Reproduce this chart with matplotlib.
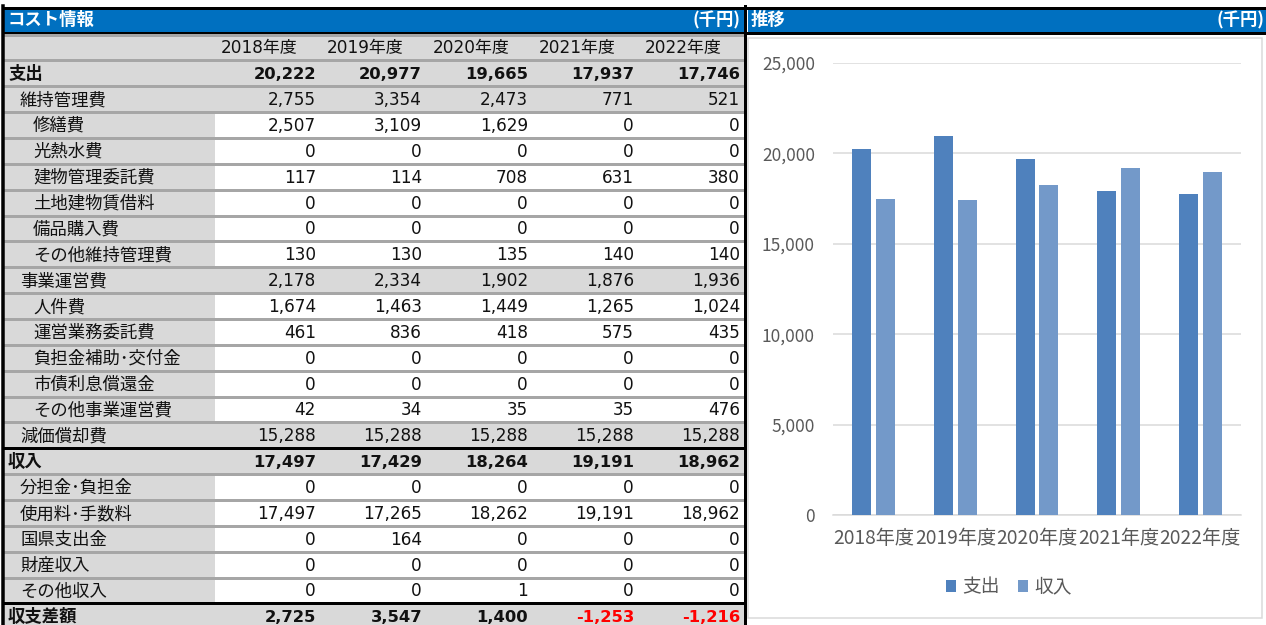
import matplotlib
matplotlib.use('Agg')
import matplotlib.pyplot as plt
from matplotlib.patches import Rectangle
import numpy as np

# ---------------- data ----------------
years = ['2018年度', '2019年度', '2020年度', '2021年度', '2022年度']
row_labels = ['支出', '維持管理費', '修繕費', '光熱水費', '建物管理委託費', '土地建物賃借料',
              '備品購入費', 'その他維持管理費', '事業運営費', '人件費', '運営業務委託費',
              '負担金補助･交付金', '市債利息償還金', 'その他事業運営費', '減価償却費',
              '収入', '分担金･負担金', '使用料･手数料', '国県支出金', '財産収入', 'その他収入',
              '収支差額']
row_levels = [0, 1, 2, 2, 2, 2, 2, 2, 1, 2, 2, 2, 2, 2, 1, 0, 1, 1, 1, 1, 1, 0]
row_values = [
    [20222, 20977, 19665, 17937, 17746],
    [2755, 3354, 2473, 771, 521],
    [2507, 3109, 1629, 0, 0],
    [0, 0, 0, 0, 0],
    [117, 114, 708, 631, 380],
    [0, 0, 0, 0, 0],
    [0, 0, 0, 0, 0],
    [130, 130, 135, 140, 140],
    [2178, 2334, 1902, 1876, 1936],
    [1674, 1463, 1449, 1265, 1024],
    [461, 836, 418, 575, 435],
    [0, 0, 0, 0, 0],
    [0, 0, 0, 0, 0],
    [42, 34, 35, 35, 476],
    [15288, 15288, 15288, 15288, 15288],
    [17497, 17429, 18264, 19191, 18962],
    [0, 0, 0, 0, 0],
    [17497, 17265, 18262, 19191, 18962],
    [0, 164, 0, 0, 0],
    [0, 0, 0, 0, 0],
    [0, 0, 1, 0, 0],
    [2725, 3547, 1400, -1253, -1216],
]
spend = [20222, 20977, 19665, 17937, 17746]
income = [17497, 17429, 18264, 19191, 18962]
series_names = ['支出', '収入']
table_title = 'コスト情報'
chart_title = '推移'
unit_label = '(千円)'
y_ticks = [0, 5000, 10000, 15000, 20000, 25000]

# ---------------- styling ----------------
W, H = 1266, 625
BLUE = '#0070C0'
GRAY = '#D9D9D9'
SEP = '#A6A6A6'
C1 = '#4F81BD'
C2 = '#7399C9'
TXT = '#595959'
TFAM = ['DejaVu Sans', 'Noto Sans CJK JP']
CFAM = ['Noto Sans CJK JP', 'DejaVu Sans']
TFS = 12.2

fig = plt.figure(figsize=(W / 100, H / 100), dpi=100)
fig.patch.set_facecolor('white')
bg = fig.add_axes([0, 0, 1, 1])
bg.set_xlim(0, W)
bg.set_ylim(H, 0)
bg.axis('off')

def px(v):
    return v * 0.72  # pixels -> points

# title bars
bg.add_patch(Rectangle((2, 8), 744, 24, color=BLUE, lw=0))
bg.add_patch(Rectangle((748, 8), 518, 24, color=BLUE, lw=0))
bg.plot([2, W], [7.5, 7.5], color='black', lw=px(3), solid_capstyle='butt')
bg.plot([2, W], [33, 33], color='black', lw=px(3), solid_capstyle='butt')
bg.text(7, 20, table_title, color='white', fontsize=12.5, fontweight='bold', family=CFAM, va='center', ha='left')
bg.text(740, 20, unit_label, color='white', fontsize=12.5, fontweight='bold', family=CFAM, va='center', ha='right')
bg.text(751, 20, chart_title, color='white', fontsize=12.5, fontweight='bold', family=CFAM, va='center', ha='left')
bg.text(1264, 20, unit_label, color='white', fontsize=12.5, fontweight='bold', family=CFAM, va='center', ha='right')

# table geometry
x0, xl, x1 = 3, 215, 745
col_right = [316, 422, 528, 634, 740]
rh = 25.86
top = 34.5
n = len(row_labels)
full_gray = {i for i, lv in enumerate(row_levels) if lv <= 1 and not (i > 15 and lv == 1)}

# header row
bg.add_patch(Rectangle((x0, top), x1 - x0, rh, color=GRAY, lw=0))
for j, y in enumerate(years):
    bg.text(col_right[j] - 19, top + rh / 2 + 1, y, fontsize=TFS, family=TFAM, va='center', ha='right', color='#111111')

for i in range(n):
    yt = top + rh * (i + 1)
    yc = yt + rh / 2 + 1
    if i in full_gray:
        bg.add_patch(Rectangle((x0, yt), x1 - x0, rh, color=GRAY, lw=0))
    else:
        bg.add_patch(Rectangle((x0, yt), xl - x0, rh, color=GRAY, lw=0))
    lv = row_levels[i]
    bold = lv == 0
    lx = [8, 20, 33][lv]
    bg.text(lx, yc, row_labels[i], fontsize=TFS + 0.3, family=CFAM, va='center', ha='left',
            fontweight='bold' if bold else 'normal', color='#111111')
    for j, v in enumerate(row_values[i]):
        col = '#FF0000' if v < 0 else '#111111'
        bg.text(col_right[j], yc, f'{v:,}', fontsize=TFS if not bold else 11.8, family=TFAM,
                va='center', ha='right', fontweight='bold' if bold else 'normal', color=col)

# separators
for i in range(n + 1):
    yb = top + rh * i
    if i in (16, 22):
        bg.plot([x0, x1], [yb, yb], color='black', lw=px(3), solid_capstyle='butt', zorder=5)
    else:
        bg.plot([x0, x1], [yb, yb], color=SEP, lw=px(3), solid_capstyle='butt', zorder=4)

# table vertical borders
bg.plot([2.5, 2.5], [6, H], color='black', lw=px(3.5), zorder=6)
bg.plot([744.5, 744.5], [6, H], color='black', lw=px(3), zorder=6)

# chart frame
bg.add_patch(Rectangle((748, 38), 514, 580, fill=False, ec='#D9D9D9', lw=px(1.5)))

# ---------------- chart ----------------
ax = fig.add_axes([833 / W, (H - 515) / H, (1241 - 833) / W, (515 - 63) / H])
x = np.arange(len(years))
off, bw = 0.146, 0.232
ax.bar(x - off, spend, bw, color=C1, zorder=3, label=series_names[0])
ax.bar(x + off, income, bw, color=C2, zorder=3, label=series_names[1])
ax.set_xlim(-0.5, len(years) - 0.5)
ax.set_ylim(0, 25000)
ax.set_yticks(y_ticks)
ax.set_yticklabels([f'{t:,}' for t in y_ticks], family=CFAM, fontsize=12.5, color=TXT)
ax.set_xticks(x)
ax.set_xticklabels(years, family=CFAM, fontsize=13.8, color=TXT)
ax.tick_params(axis='both', length=0)
ax.tick_params(axis='y', pad=13)
ax.tick_params(axis='x', pad=9)
ax.grid(axis='y', color='#D9D9D9', lw=px(1.5), zorder=0)
for s in ['top', 'right', 'left']:
    ax.spines[s].set_visible(False)
ax.spines['bottom'].set_color('#D9D9D9')
ax.spines['bottom'].set_linewidth(px(1.5))
ax.set_facecolor('none')

leg = fig.legend(loc='center', bbox_to_anchor=(1009 / W, (H - 587) / H), ncol=2, frameon=False,
                 handlelength=0.55, handleheight=0.55, handletextpad=0.35, columnspacing=0.95,
                 prop={'family': CFAM, 'size': 13.5})
for t in leg.get_texts():
    t.set_color(TXT)

fig.savefig('out.png', dpi=100, facecolor='white')
